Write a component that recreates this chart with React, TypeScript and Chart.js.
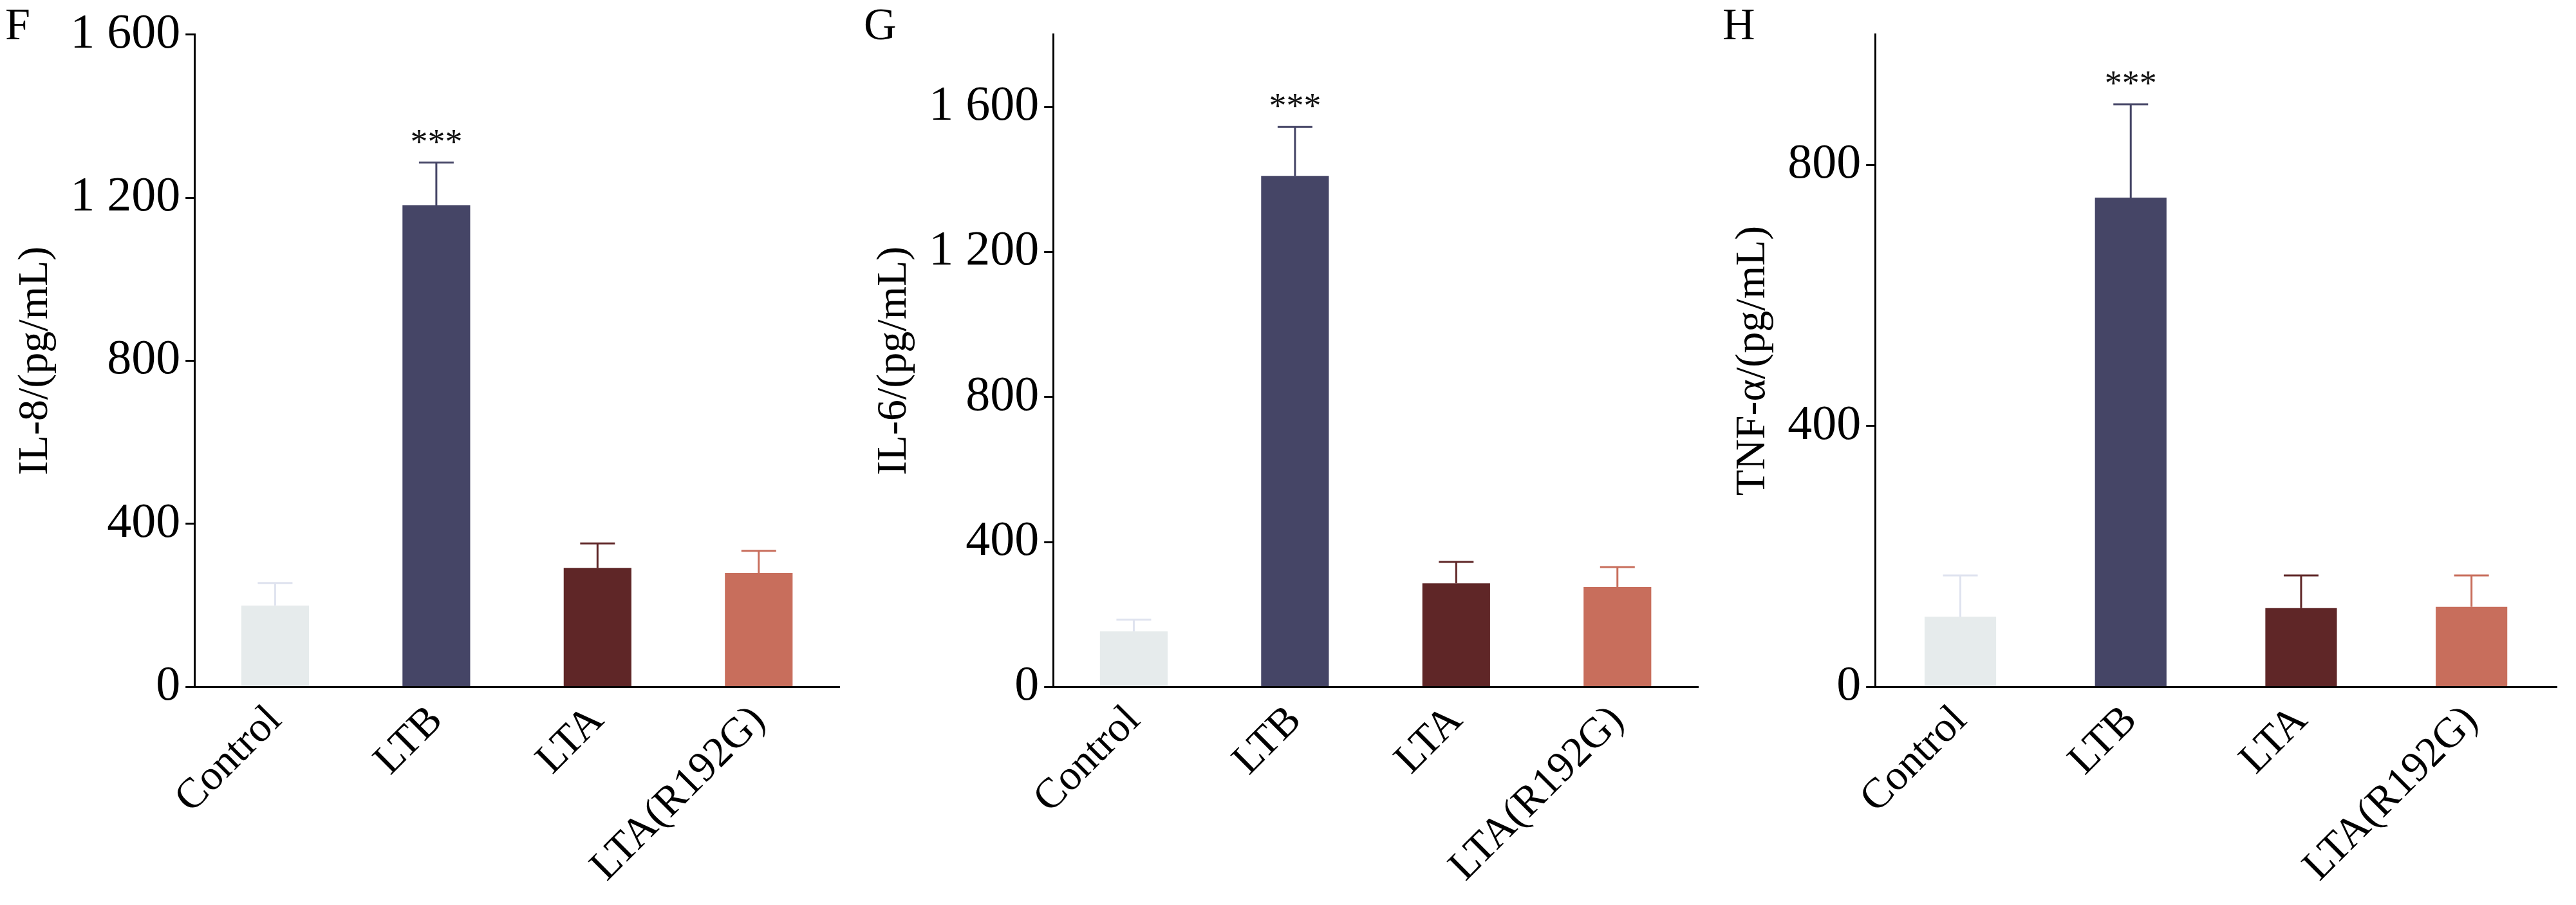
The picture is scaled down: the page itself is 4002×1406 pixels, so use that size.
import React, { useEffect, useRef } from "react";
import { Chart, registerables } from "chart.js";

Chart.register(...registerables);

const groups = ["Control", "LTB", "LTA", "LTA(R192G)"];
const barColors = ["#e6ebec", "#454566", "#5f2627", "#c86e5c"];
const errColors = ["#dfe3ef", "#454566", "#5f2627", "#c86e5c"];

const il8Means = [200, 1181, 292, 280];
const il8Upper = [255, 1286, 352, 334];
const il6Means = [154, 1410, 286, 276];
const il6Upper = [186, 1545, 345, 331];
const tnfMeans = [108, 750, 121, 123];
const tnfUpper = [171, 893, 171, 171];

const FONT = "'Liberation Serif', 'Times New Roman', serif";

interface PanelProps {
  letter: string;
  title: string;
  means: number[];
  upper: number[];
  max: number;
  step: number;
}

const errorBars = {
  id: "errorBars",
  afterDatasetsDraw(chart: any, _args: any, opts: any) {
    const { ctx, scales } = chart;
    const meta = chart.getDatasetMeta(0);
    ctx.save();
    meta.data.forEach((bar: any, i: number) => {
      const x = bar.x;
      const yTop = scales.y.getPixelForValue(opts.upper[i]);
      const yMean = scales.y.getPixelForValue(opts.means[i]);
      ctx.strokeStyle = errColors[i];
      ctx.lineWidth = 3;
      ctx.beginPath();
      ctx.moveTo(x, yMean);
      ctx.lineTo(x, yTop);
      ctx.moveTo(x - 27, yTop);
      ctx.lineTo(x + 27, yTop);
      ctx.stroke();
      if (i === 1) {
        ctx.fillStyle = "#111";
        ctx.font = `54px ${FONT}`;
        ctx.textAlign = "center";
        ctx.textBaseline = "bottom";
        ctx.fillText("***", x, yTop - 2);
      }
    });
    // panel letter
    ctx.fillStyle = "#000";
    ctx.font = `70px ${FONT}`;
    ctx.textAlign = "left";
    ctx.textBaseline = "top";
    ctx.fillText(opts.letter, 8, 8);
    ctx.restore();
  },
};

const Panel: React.FC<PanelProps> = ({ letter, title, means, upper, max, step }) => {
  const ref = useRef<HTMLCanvasElement | null>(null);

  useEffect(() => {
    const ctx = ref.current?.getContext("2d");
    if (!ctx) return;
    const chart = new Chart(ctx, {
      type: "bar",
      data: {
        labels: groups,
        datasets: [
          {
            data: means,
            backgroundColor: barColors,
            barPercentage: 0.42,
            categoryPercentage: 1,
          },
        ],
      },
      plugins: [errorBars],
      options: {
        animation: false,
        responsive: false,
        layout: { padding: { top: 50, right: 30, left: 10, bottom: 0 } },
        plugins: {
          legend: { display: false },
          tooltip: { enabled: false },
          errorBars: { means, upper, letter },
        } as any,
        scales: {
          x: {
            grid: { display: false, drawTicks: false },
            border: { color: "#000", width: 3 },
            ticks: {
              color: "#000",
              font: { family: FONT, size: 66 },
              maxRotation: 45,
              minRotation: 45,
              padding: 14,
            },
          },
          y: {
            min: 0,
            max,
            grid: { drawOnChartArea: false, color: "#000", lineWidth: 3, tickLength: 14 },
            border: { color: "#000", width: 3 },
            ticks: {
              stepSize: step,
              color: "#000",
              font: { family: FONT, size: 76 },
              padding: 8,
              callback: (v: any) => {
                if (v % step !== 0) return null;
                return v >= 1000 ? String(v).replace(/(\d)(\d{3})$/, "$1 $2") : String(v);
              },
            },
            title: {
              display: true,
              text: title,
              color: "#000",
              font: { family: FONT, size: 66 },
              padding: 6,
            },
          },
        },
      },
    });
    return () => chart.destroy();
  }, [letter, title, means, upper, max, step]);

  return <canvas ref={ref} width={1334} height={1400} style={{ display: "block" }} />;
};

export default function App() {
  return (
    <div style={{ position: "absolute", left: 0, top: 0, width: 4002, height: 1406, display: "flex", background: "#fff" }}>
      <Panel letter="F" title="IL-8/(pg/mL)" means={il8Means} upper={il8Upper} max={1600} step={400} />
      <Panel letter="G" title="IL-6/(pg/mL)" means={il6Means} upper={il6Upper} max={1800} step={400} />
      <Panel letter="H" title="TNF-α/(pg/mL)" means={tnfMeans} upper={tnfUpper} max={1000} step={400} />
    </div>
  );
}
